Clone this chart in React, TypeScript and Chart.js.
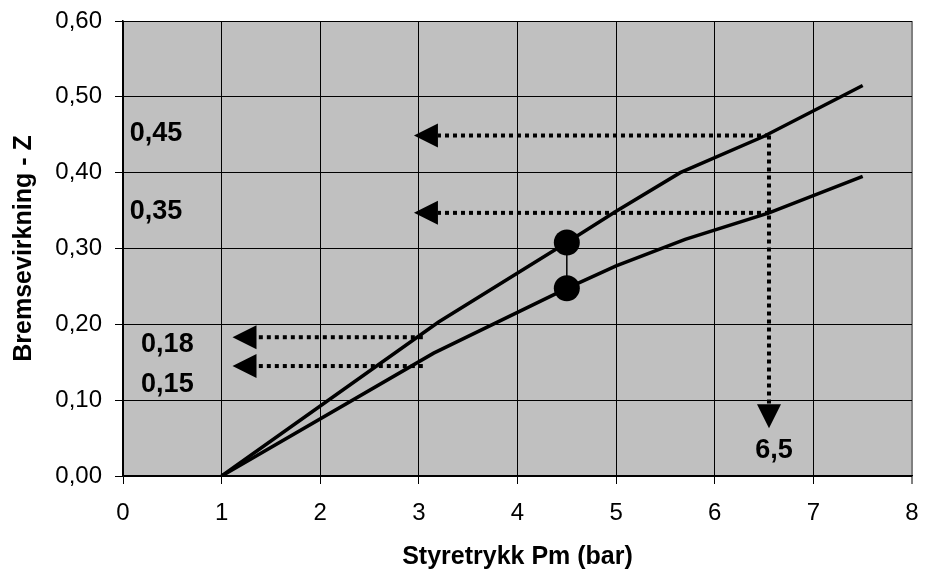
import React, { useEffect, useRef } from "react";
import { Chart, registerables } from "chart.js";

Chart.register(...registerables);

// Curves (x = Styretrykk Pm bar, y = Bremsevirkning Z)
const upperX = [1, 3.2, 4.5, 5.0, 5.65, 6.5, 7.5];
const upperY = [0, 0.203, 0.308, 0.349, 0.4, 0.448, 0.515];
const lowerX = [1, 3.15, 4.5, 5.0, 5.7, 6.55, 7.5];
const lowerY = [0, 0.162, 0.2475, 0.277, 0.312, 0.347, 0.395];
const markerX = [4.5, 4.5];
const markerY = [0.308, 0.2475];

// Dotted arrows: from -> tip (data coordinates)
const arrowFromX = [6.55, 6.55, 3.04, 3.04, 6.55];
const arrowFromY = [0.449, 0.347, 0.183, 0.145, 0.449];
const arrowTipX = [2.95, 2.95, 1.11, 1.11, 6.55];
const arrowTipY = [0.449, 0.347, 0.183, 0.145, 0.063];

// Annotation labels
const noteText = ["0,45", "0,35", "0,18", "0,15", "6,5"];
const noteX = [0.334, 0.334, 0.45, 0.45, 6.6];
const noteY = [0.452, 0.349, 0.173, 0.12, 0.034];

// Axes
const xMin = 0;
const xMax = 8;
const xStep = 1;
const yMin = 0;
const yMax = 0.6;
const yStep = 0.1;
const xTitle = "Styretrykk Pm (bar)";
const yTitle = "Bremsevirkning - Z";

const FONT = "'Liberation Sans', Arial, sans-serif";

const annotPlugin = {
  id: "annot",
  beforeDraw(chart: any) {
    const { ctx, chartArea } = chart;
    ctx.save();
    ctx.fillStyle = "#C0C0C0";
    ctx.fillRect(
      chartArea.left,
      chartArea.top,
      chartArea.right - chartArea.left,
      chartArea.bottom - chartArea.top
    );
    ctx.restore();
  },
  beforeDatasetsDraw(chart: any) {
    const { ctx } = chart;
    const xs = chart.scales.x;
    const ys = chart.scales.y;
    ctx.save();
    for (let i = 0; i < arrowFromX.length; i++) {
      const x1 = xs.getPixelForValue(arrowFromX[i]);
      const y1 = ys.getPixelForValue(arrowFromY[i]);
      const x2 = xs.getPixelForValue(arrowTipX[i]);
      const y2 = ys.getPixelForValue(arrowTipY[i]);
      const dx = x2 - x1;
      const dy = y2 - y1;
      const len = Math.hypot(dx, dy);
      const ux = dx / len;
      const uy = dy / len;
      const headLen = 24;
      const headHalf = 12;
      const bx = x2 - ux * headLen;
      const by = y2 - uy * headLen;
      ctx.strokeStyle = "#000";
      ctx.lineWidth = 4;
      ctx.lineCap = "butt";
      ctx.setLineDash([4, 4]);
      ctx.beginPath();
      ctx.moveTo(x1, y1);
      ctx.lineTo(bx, by);
      ctx.stroke();
      ctx.setLineDash([]);
      ctx.fillStyle = "#000";
      ctx.beginPath();
      ctx.moveTo(x2, y2);
      ctx.lineTo(bx - uy * headHalf, by + ux * headHalf);
      ctx.lineTo(bx + uy * headHalf, by - ux * headHalf);
      ctx.closePath();
      ctx.fill();
    }
    ctx.restore();
  },
  afterDraw(chart: any) {
    const { ctx } = chart;
    const xs = chart.scales.x;
    const ys = chart.scales.y;
    ctx.save();
    ctx.fillStyle = "#000";
    ctx.font = `bold 27px ${FONT}`;
    ctx.textAlign = "center";
    ctx.textBaseline = "middle";
    for (let i = 0; i < noteText.length; i++) {
      ctx.fillText(noteText[i], xs.getPixelForValue(noteX[i]), ys.getPixelForValue(noteY[i]));
    }
    ctx.restore();
  },
};

export default function App() {
  const ref = useRef<HTMLCanvasElement | null>(null);

  useEffect(() => {
    if (!ref.current) return;
    const tickFont = { family: FONT, size: 24 };
    const titleFont = { family: FONT, size: 25, weight: "bold" as const };
    const chart = new Chart(ref.current, {
      type: "scatter",
      data: {
        datasets: [
          {
            data: upperX.map((x, i) => ({ x, y: upperY[i] })),
            showLine: true,
            borderColor: "#000",
            borderWidth: 3.5,
            pointRadius: 0,
            tension: 0,
          },
          {
            data: lowerX.map((x, i) => ({ x, y: lowerY[i] })),
            showLine: true,
            borderColor: "#000",
            borderWidth: 3.5,
            pointRadius: 0,
            tension: 0,
          },
          {
            data: markerX.map((x, i) => ({ x, y: markerY[i] })),
            showLine: true,
            borderColor: "#000",
            borderWidth: 1.5,
            pointRadius: 13,
            pointBackgroundColor: "#000",
            pointBorderColor: "#000",
            pointBorderWidth: 0,
          },
        ],
      },
      options: {
        animation: false,
        responsive: false,
        events: [],
        layout: { padding: { top: 21, right: 12, left: 0, bottom: 0 } },
        plugins: {
          legend: { display: false },
          tooltip: { enabled: false },
        },
        scales: {
          x: {
            type: "linear",
            min: xMin,
            max: xMax,
            ticks: { stepSize: xStep, font: tickFont, color: "#000", padding: 15 },
            grid: {
              color: (c: any) => (c.tick && c.tick.value === xMax ? "#808080" : "#000"),
              lineWidth: (c: any) => (c.tick && c.tick.value === xMax ? 2 : 1),
              tickLength: 8,
              tickColor: "#000",
              tickWidth: 1,
            },
            border: { color: "#000", width: 1.5 },
            title: {
              display: true,
              text: xTitle,
              font: titleFont,
              color: "#000",
              padding: { top: 0, bottom: 3 },
            },
            afterFit: (s: any) => {
              s.height = 99;
              s.paddingLeft = 0;
              s.paddingRight = 0;
            },
          },
          y: {
            type: "linear",
            min: yMin,
            max: yMax,
            ticks: {
              stepSize: yStep,
              font: tickFont,
              color: "#000",
              padding: 13,
              callback: (v: any) => Number(v).toFixed(2).replace(".", ","),
            },
            grid: {
              color: "#000",
              lineWidth: 1,
              tickLength: 8,
              tickColor: "#000",
            },
            border: { color: "#000", width: 1.5 },
            title: {
              display: true,
              text: yTitle,
              font: titleFont,
              color: "#000",
              padding: { top: 9, bottom: 0 },
            },
            afterFit: (s: any) => {
              s.width = 123;
              s.paddingTop = 0;
              s.paddingBottom = 0;
            },
          },
        },
      },
      plugins: [annotPlugin],
    });
    return () => chart.destroy();
  }, []);

  return (
    <div
      style={{
        position: "fixed",
        left: 0,
        top: 0,
        width: 925,
        height: 575,
        background: "#fff",
      }}
    >
      <canvas ref={ref} width={925} height={575} style={{ display: "block" }} />
    </div>
  );
}
